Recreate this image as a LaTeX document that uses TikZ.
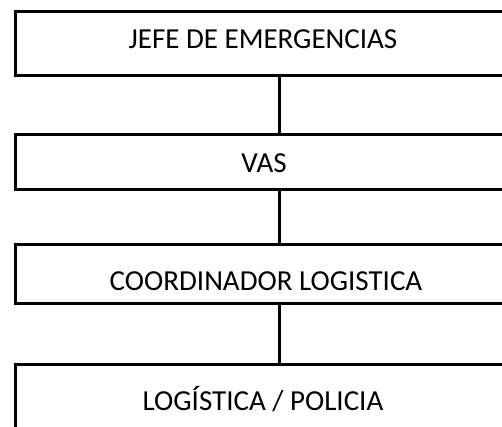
\documentclass[tikz,border=0pt]{standalone}
\usepackage{fontspec}
\setmainfont{Carlito}
\begin{document}
\begin{tikzpicture}[x=1pt,y=-1pt,
  box/.style={draw=black,line width=3pt,minimum width=498pt,inner sep=0pt,anchor=north west},
  lbl/.style={font=\fontsize{29}{31}\selectfont,anchor=base,inner sep=0pt},
  conn/.style={draw=black,line width=3pt}]
\useasboundingbox (0,0) rectangle (502,427);
\clip (0,0) rectangle (502,427);
\node[box,minimum height=64pt] (b1) at (14,10) {};
\node[box,minimum height=55pt] (b2) at (14,133) {};
\node[box,minimum height=59pt] (b3) at (14,243) {};
\node[box,minimum height=90pt] (b4) at (14,363) {};
\node[lbl] (t1) at (263,49) {JEFE DE EMERGENCIAS};
\node[lbl] (t2) at (264,173) {VAS};
\node[lbl] (t3) at (266,290) {COORDINADOR LOGISTICA};
\node[lbl] (t4) at (263,410) {LOGÍSTICA / POLICIA};
\draw[conn] ([xshift=15pt]b1.south) -- ([xshift=15pt]b2.north);
\draw[conn] ([xshift=15pt]b2.south) -- ([xshift=15pt]b3.north);
\draw[conn] ([xshift=15pt]b3.south) -- ([xshift=15pt]b4.north);
\end{tikzpicture}
\end{document}
